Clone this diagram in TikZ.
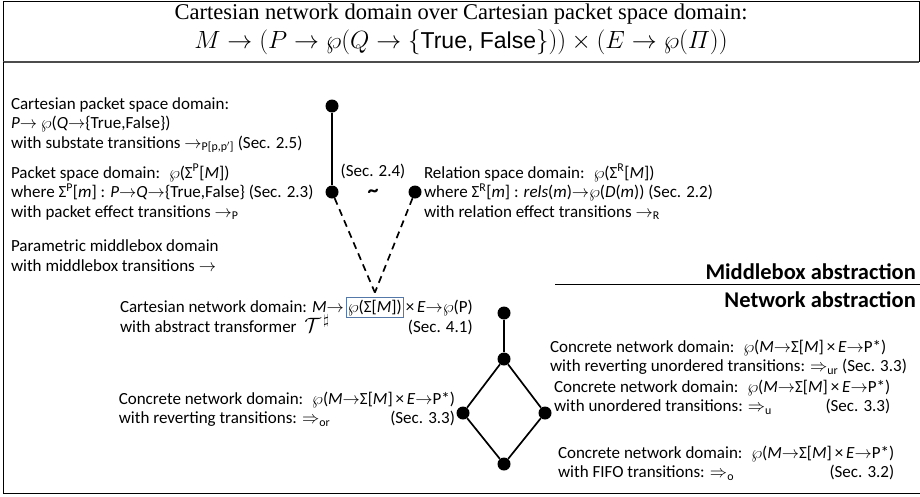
\documentclass[tikz,border=0pt]{standalone}
\usepackage{amsmath}
\usepackage[no-math]{fontspec}
\setmainfont{Carlito}
\newfontfamily\titlefont{Liberation Serif}
\newfontfamily\helvfont{Liberation Sans}
\usetikzlibrary{calc}
\definecolor{boxblue}{RGB}{84,120,168}
\newcommand{\bodyfont}{\fontsize{17}{19.5}\selectfont}
\newcommand{\pw}{\ensuremath{\wp}}
\newcommand{\ra}{\ensuremath{\rightarrow}}
\newcommand{\Ra}{\ensuremath{\Rightarrow}}
\newcommand{\sbx}[1]{\textsubscript{#1}}
\newcommand{\spx}[1]{\textsuperscript{#1}}
\newcommand{\conc}{Concrete network domain: \ \pw(\textit{M}\ra Σ[\textit{M}]\,×\,\textit{E}\ra P*)}
\begin{document}
\begin{tikzpicture}[x=1pt,y=-1pt,
  txt/.style={inner sep=0pt, outer sep=0pt, font=\bodyfont, align=left},
  dot/.style={circle, fill=black, inner sep=0pt, minimum size=13pt},
  edge/.style={line width=1.7pt},
  dedge/.style={line width=1.7pt, dash pattern=on 7pt off 5pt},
  frame/.style={line width=0.8pt},
  boldhead/.style={inner sep=0pt, font=\bfseries\fontsize{22.5}{25}\selectfont}
]
\useasboundingbox (0,0) rectangle (920,496);
% frame
\draw[frame] (3,62) -- (3,1) -- (919,1) -- (919,62);
\draw[line width=1.6pt, black!70] (3,62) -- (919,62);
\draw[frame] (3,62) -- (3,493) -- (920,493);
% title
\node[font=\titlefont\fontsize{22.5}{27}\selectfont, inner sep=0pt, anchor=base] (title1) at (461,19.5) {Cartesian network domain over Cartesian packet space domain:};
\node[font=\fontsize{23}{27}\selectfont, inner sep=0pt, anchor=base] (title2) at (461,48) {$M \rightarrow (P \rightarrow \wp(Q \rightarrow \{\text{\helvfont True, False}\})) \times (E \rightarrow \wp(\varPi))$};
% left blocks
\node[txt, anchor=west] (cps) at (11,125) {Cartesian packet space domain:\\ \textit{P}\ra\ \pw(\textit{Q}\ra\{True,False\})\\ with substate transitions \ra\sbx{P[p,p$'$]} (Sec. 2.5)};
\node[txt, anchor=west] (psd) at (11,192) {Packet space domain: \ \pw(Σ\spx{P}[\textit{M}])\\ where Σ\spx{P}[\textit{m}] : \textit{P}\ra\textit{Q}\ra\{True,False\} (Sec. 2.3)\\ with packet effect transitions \ra\sbx{P}};
\node[txt, anchor=west] (pmd) at (11,255.5) {Parametric middlebox domain\\ with middlebox transitions \ra};
% relation block
\node[txt, anchor=west] (rsd) at (424,192) {Relation space domain: \ \pw(Σ\spx{R}[\textit{M}])\\ where Σ\spx{R}[\textit{m}] : \textit{rels}(\textit{m})\ra\pw(\textit{D}(\textit{m})) (Sec. 2.2)\\ with relation effect transitions \ra\sbx{R}};
\node[txt] (sec24) at (373,171) {(Sec. 2.4)};
\node[inner sep=0pt, font=\bfseries\fontsize{22}{22}\selectfont] (tilde) at (373,193) {\textasciitilde};
% dots of upper lattice
\node[dot] (t1) at (332,106) {};
\node[dot] (t2) at (332,192) {};
\node[dot] (r) at (415,192) {};
% cartesian network domain
\node[txt, anchor=base west] (cn1) at (120,312) {Cartesian network domain: \textit{M}\ra};
\node[txt, anchor=base west, draw=boxblue, line width=0.8pt, inner sep=2pt] (cnbox) at ([xshift=2pt]cn1.base east) {\pw(Σ[\textit{M}])};
\node[txt, anchor=base west] (cn1c) at ([xshift=2pt]cnbox.base east) {×\,\textit{E}\ra\pw(P)};
\node[txt, anchor=base west] (cn2) at (120,332) {with abstract transformer \ {\fontsize{22}{22}\selectfont$\mathcal{T}^{\,\sharp}$}};
\node[txt, anchor=base east] (cn2s) at (cn1c.east |- cn2.base) {(Sec. 4.1)};
\coordinate (vtip) at ([yshift=5pt]cnbox.north);
% abstraction labels
\node[boldhead, anchor=east] (mba) at (916,272) {Middlebox abstraction};
\coordinate (rulel) at (555,284);
\coordinate (ruler) at (920,284);
\draw[frame] (rulel) -- (ruler);
\node[boldhead, anchor=east] (nwa) at (916,300) {Network abstraction};
% lower lattice
\node[dot] (s) at (504,313) {};
\node[dot] (dtop) at (504,359) {};
\node[dot] (dl) at (463,413) {};
\node[dot] (dr) at (545,413) {};
\node[dot] (db) at (504,464) {};
% texts of lower lattice
\node[txt, anchor=west] (tr) at (550,358) {\begin{tabular}{@{}l@{}}\conc\\ with reverting unordered transitions: \Ra\sbx{ur} (Sec. 3.3)\end{tabular}};
\node[txt, anchor=west] (rm) at (554,398) {\begin{tabular}{@{}l@{}}\conc\\ with unordered transitions: \Ra\sbx{u}\hfill(Sec. 3.3)\end{tabular}};
\node[txt, anchor=west] (br) at (558,464) {\begin{tabular}{@{}l@{}}\conc\\ with FIFO transitions: \Ra\sbx{o}\hfill(Sec. 3.2)\end{tabular}};
\node[txt, anchor=east] (lt) at (455,410) {\begin{tabular}{@{}l@{}}\conc\\ with reverting transitions: \Ra\sbx{or}\hfill(Sec. 3.3)\end{tabular}};
% connectors
\draw[edge] (t1) -- (t2);
\draw[dedge] (t2) -- (vtip);
\draw[dedge] (r) -- (vtip);
\draw[edge] (s) -- (dtop);
\draw[edge] (dtop) -- (dl);
\draw[edge] (dtop) -- (dr);
\draw[edge] (dl) -- (db);
\draw[edge] (dr) -- (db);
\end{tikzpicture}
\end{document}
